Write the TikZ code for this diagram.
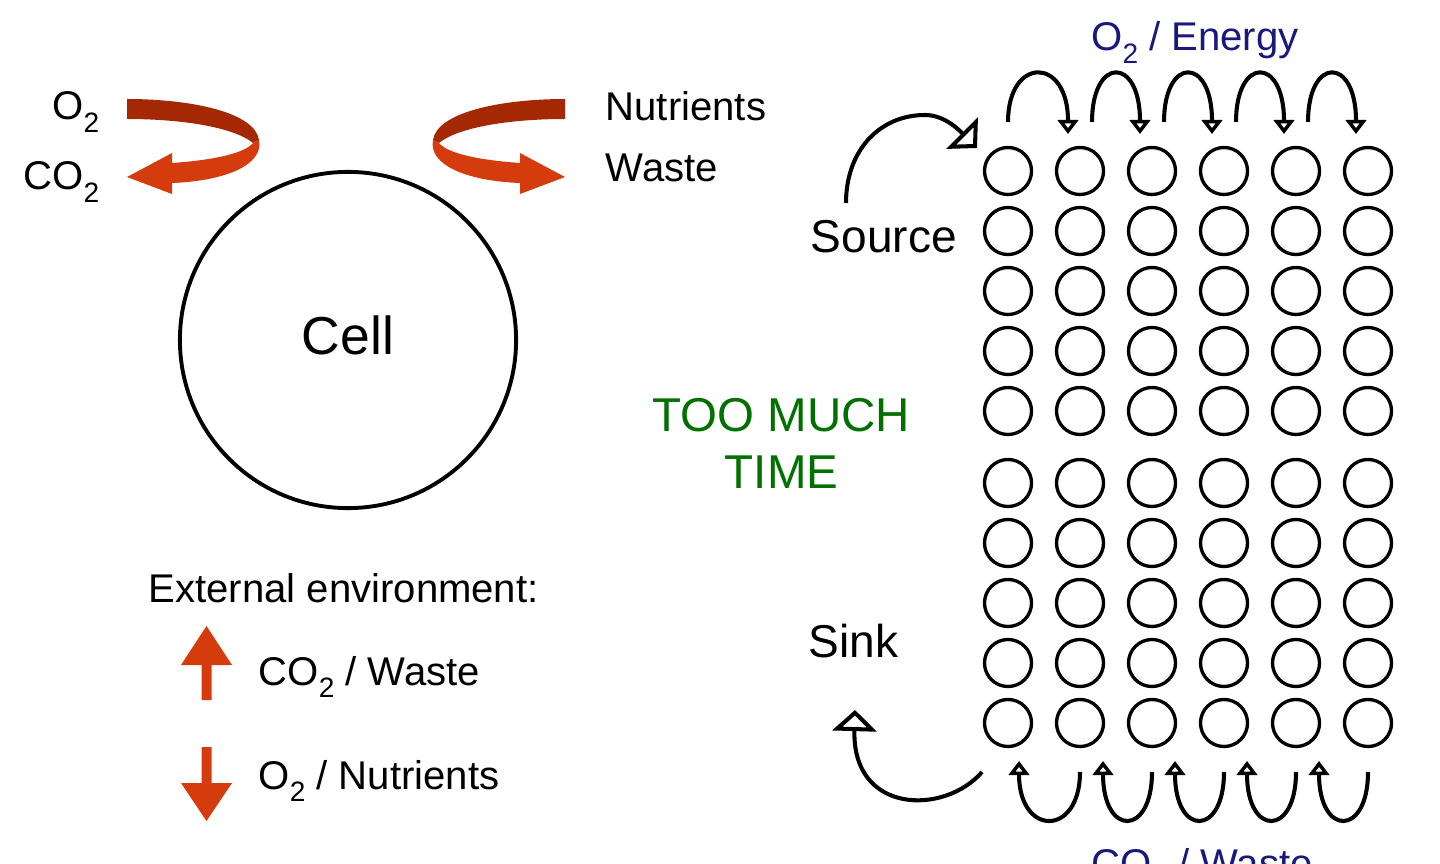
\documentclass[tikz,border=0pt]{standalone}
\usepackage{fontspec}
\setmainfont{Liberation Sans}
\usetikzlibrary{arrows.meta}
\definecolor{ribbondark}{RGB}{165,40,5}
\definecolor{ribbonred}{RGB}{212,60,14}
\definecolor{timegreen}{RGB}{0,112,0}
\definecolor{navyblue}{RGB}{25,25,125}
\newcommand{\subtwo}{\raisebox{-0.3em}{\scalebox{0.7}{2}}}
\newcommand{\pxfont}[1]{\fontsize{#1}{#1}\selectfont}
\newcommand{\ribbon}{%
  \fill[ribbondark] (127,99) .. controls (190,99) and (255,112) .. (259,140)
    -- (253,143) .. controls (235,128) and (185,119) .. (127,119) -- cycle;
  \fill[ribbonred] (253,143) -- (259,140) .. controls (264,165) and (225,181) .. (172,183)
    -- (172,194) -- (127,177) -- (172,153) -- (172,163)
    .. controls (215,160) and (245,153) .. (253,143) -- cycle;}

\begin{document}
\begin{tikzpicture}[x=0.01cm,y=-0.01cm,
  lbl/.style={inner sep=0pt,font=\pxfont{11.4pt}},
  dot/.style={draw,circle,line width=0.95pt,minimum size=0.47cm,inner sep=0pt},
  hop/.style={line width=1.15pt,-{Triangle[open,length=4pt,width=5.8pt]}},
  bigtip/.style={line width=1.15pt,-{Triangle[open,length=6pt,width=12.5pt]}}]
  \fill[white] (0,0) rectangle (1440,864);
  \useasboundingbox (0,0) rectangle (1440,864);

  \ribbon
  \begin{scope}[shift={(692,0)},xscale=-1]
    \ribbon
  \end{scope}
  \draw (100,120) node[lbl,anchor=base east] (o2) {O\subtwo};
  \draw (100,190) node[lbl,anchor=base east] (co2) {CO\subtwo};
  \draw (605,121) node[lbl,anchor=base west] (nutr) {Nutrients};
  \draw (605,182) node[lbl,anchor=base west] (waste) {Waste};

  \draw (348,340) node[circle,draw,line width=1.1pt,minimum size=3.36cm,
    text depth=0.1cm,font=\pxfont{15.2pt}] (cell) {Cell};

  \draw (148,602) node[lbl,anchor=base west] (ext) {External environment:};
  \fill[ribbonred] (201.5,700) -- (201.5,665) -- (181,665) -- (206.5,626)
    -- (232,665) -- (211.5,665) -- (211.5,700) -- cycle;
  \fill[ribbonred] (201.5,747) -- (201.5,783) -- (181,783) -- (206.5,821)
    -- (232,783) -- (211.5,783) -- (211.5,747) -- cycle;
  \draw (258,685) node[lbl,anchor=base west] (outlbl) {CO\subtwo{} / Waste};
  \draw (258,789) node[lbl,anchor=base west] (inlbl) {O\subtwo{} / Nutrients};

  \draw (781.5,443) node[inner sep=0pt,align=center,text=timegreen,
    font=\fontsize{13.5pt}{16.2pt}\selectfont] (time) {TOO MUCH\\TIME};
  \draw (810,253) node[inner sep=0pt,anchor=base west,font=\pxfont{13.1pt}] (source) {Source};
  \draw (808,657) node[inner sep=0pt,anchor=base west,font=\pxfont{13.1pt}] (sink) {Sink};

  \foreach \r/\y in {1/171,2/231,3/291,4/351,5/411,6/483,7/543,8/603,9/663,10/723}
    \foreach \c in {1,...,6}
      \node[dot] (c-\r-\c) at ({936+72*\c},\y) {};

  \draw (1195,51) node[lbl,anchor=base,text=navyblue] (energy) {O\subtwo{} / Energy};
  \foreach \i/\s in {1/1008,2/1092,3/1164,4/1236,5/1308} {
    \coordinate (ts\i) at (\s,122);
    \coordinate (te\i) at ({996+72*\i},134);
    \draw[hop] (ts\i) .. controls +(0,-66) and +(0,-78) .. (te\i);
  }
  \foreach \i/\h in {1/1019,2/1103,3/1175,4/1247,5/1319} {
    \coordinate (bs\i) at ({1008+72*\i},772);
    \coordinate (be\i) at (\h,761);
    \draw[hop] (bs\i) .. controls +(0,65) and +(0,76) .. (be\i);
  }
  \draw (1202,877) node[lbl,anchor=base,text=navyblue] (waste2) {CO\subtwo{} / Waste};

  \coordinate (srcfoot) at (846,203);
  \coordinate (srctop) at (925,115);
  \coordinate (srctip) at (977,148);
  \draw[bigtip] (srcfoot) .. controls (846,150) and (880,115) .. (srctop)
    .. controls (945,115) and (960,131) .. (srctip);
  \coordinate (sinkfoot) at (982,772);
  \coordinate (sinktip) at (855,710);
  \draw[bigtip] (sinkfoot) .. controls (945,815) and (852,815) .. (sinktip);
\end{tikzpicture}
\end{document}
